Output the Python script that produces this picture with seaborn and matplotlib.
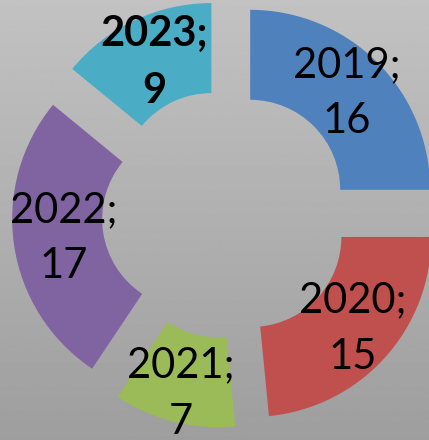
import matplotlib
matplotlib.use("Agg")
import matplotlib.pyplot as plt
import numpy as np
import seaborn as sns

# data
years = ["2019", "2020", "2021", "2022", "2023"]
counts = [16, 15, 7, 17, 9]
colors = ["#4F81BD", "#C0504D", "#9BBB59", "#8064A2", "#4BACC6"]

sns.set_theme(style="white")
plt.rcParams["font.family"] = ["Lato", "DejaVu Sans"]

fig = plt.figure(figsize=(4.29, 4.40), dpi=100)

# grey gradient background
bg = fig.add_axes([0, 0, 1, 1])
grad = np.linspace(0.76, 0.62, 256).reshape(-1, 1)
bg.imshow(grad, aspect="auto", cmap="gray", vmin=0, vmax=1, extent=[0, 1, 0, 1])
bg.axis("off")

ax = fig.add_axes([0, 0, 1, 1])
ax.patch.set_alpha(0)
labels = [f"{y};\n{c}" for y, c in zip(years, counts)]
wedges, texts = ax.pie(counts, colors=sns.color_palette(colors), startangle=90,
                       counterclock=False, explode=[0.19] * len(counts),
                       labels=labels, labeldistance=0.75,
                       wedgeprops=dict(width=0.5, linewidth=0),
                       textprops=dict(fontsize=30, color="black"))

# label distance from each wedge's own centre (2021 sits lower in the original)
label_dist = [0.76, 0.76, 0.84, 0.72, 0.74]
for w, t, d in zip(wedges, texts, label_dist):
    th = np.deg2rad((w.theta1 + w.theta2) / 2)
    cx, cy = w.center
    t.set_position((cx + d * w.r * np.cos(th), cy + d * w.r * np.sin(th)))
    t.set_ha("center")
    t.set_va("center")
    t.set_linespacing(1.6)
texts[-1].set_fontweight("bold")

# doughnut is bigger than the canvas, crop like the original
ax.set_xlim(-1.2556, 1.1278)
ax.set_ylim(-1.2556, 1.1889)
ax.set_aspect("auto")
ax.axis("off")

fig.savefig("out.png", dpi=100)
